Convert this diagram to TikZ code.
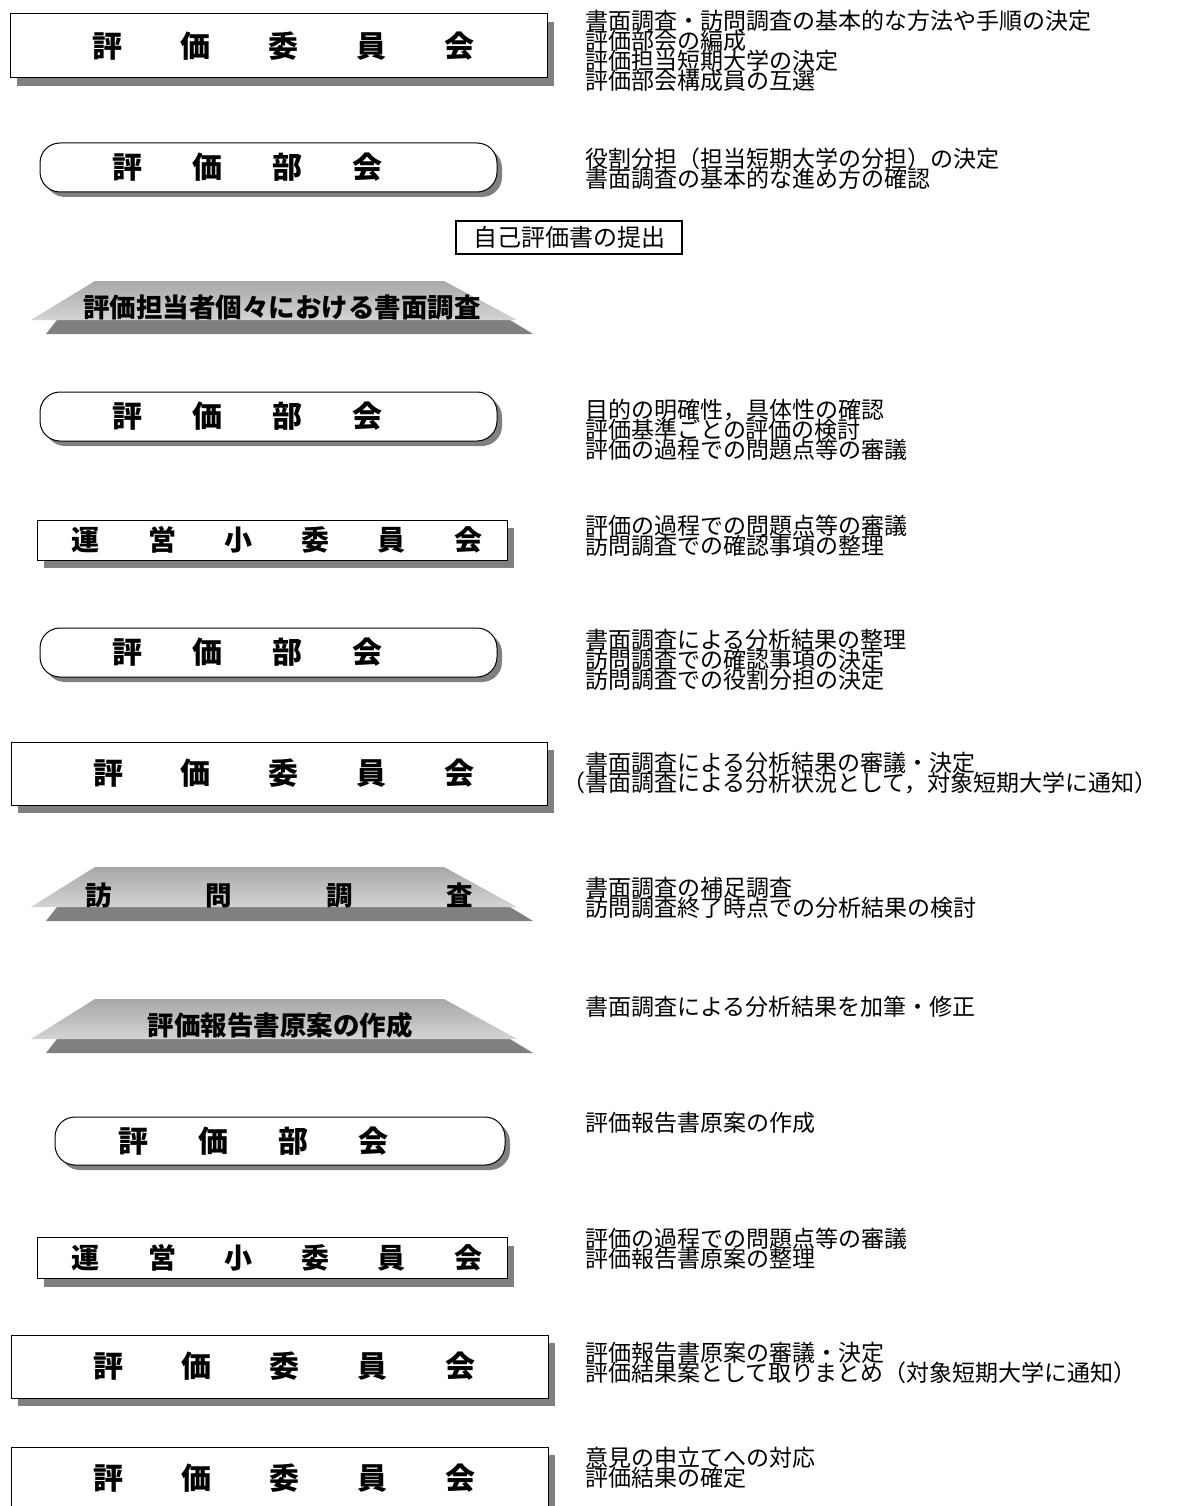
\documentclass[tikz,border=0pt]{standalone}
\usepackage{fontspec}
\newfontfamily\jp{Noto Sans CJK JP}
\usetikzlibrary{shadows}
\definecolor{shadowgray}{HTML}{808080}
\definecolor{traptop}{HTML}{A8A8A8}
\definecolor{trapbot}{HTML}{D4D4D4}
\tikzset{
  sqbox/.style={draw=black, line width=1pt, fill=white, inner sep=0pt,
    drop shadow={shadow xshift=7pt, shadow yshift=-8pt, fill=shadowgray, opacity=1}},
  rbox/.style={draw=black, line width=1pt, fill=white, rounded corners=20pt, inner sep=0pt,
    drop shadow={shadow xshift=5pt, shadow yshift=-5pt, fill=shadowgray, opacity=1}},
  biglbl/.style={font=\jp\bfseries\fontsize{30pt}{30pt}\selectfont},
  midlbl/.style={font=\jp\bfseries\fontsize{28pt}{28pt}\selectfont},
  traplbl/.style={inner sep=0pt, font=\jp\bfseries\fontsize{26.5pt}{26.5pt}\selectfont},
  note/.style={anchor=base west, inner sep=0pt, font=\jp\fontsize{23pt}{23pt}\selectfont},
  lightpart/.style={top color=traptop, bottom color=trapbot, draw=none},
  darkpart/.style={fill=shadowgray, draw=none},
}
\newcommand{\trapshape}[3]{%
  \path[darkpart] (57,#2) -- (510,#2) -- (533,#3) -- (46,#3) -- cycle;
  \path[lightpart] (95,#1) -- (444,#1) -- (517,#2) -- (31,#2) -- cycle;
}
\newcommand{\commlabel}{\kern10pt 評\hspace{58pt}価\hspace{58pt}委\hspace{58pt}員\hspace{58pt}会}
\newcommand{\buklabel}{評\hspace{50pt}価\hspace{50pt}部\hspace{50pt}会}
\newcommand{\unlabel}{\kern10pt 運\hspace{48.6pt}営\hspace{48.6pt}小\hspace{48.6pt}委\hspace{48.6pt}員\hspace{48.6pt}会}
\begin{document}
\begin{tikzpicture}[x=1pt,y=-1pt]
\useasboundingbox (0,0) rectangle (1179,1506);
\fill[white] (0,0) rectangle (1179,1506);

% 1 評価委員会
\node[sqbox, biglbl, minimum width=537pt, minimum height=64pt] (c1) at (278.5,46) {\commlabel};
\node[note] (n1a) at (585,30) {書面調査・訪問調査の基本的な方法や手順の決定};
\node[note] (n1b) at (585,50) {評価部会の編成};
\node[note] (n1c) at (585,70) {評価担当短期大学の決定};
\node[note] (n1d) at (585,90) {評価部会構成員の互選};

% 2 評価部会
\node[rbox, biglbl, minimum width=457pt, minimum height=49pt] (b1) at (268.5,167.5) {\buklabel\kern42pt};
\node[note] (n2a) at (585,168) {役割分担（担当短期大学の分担）の決定};
\node[note] (n2b) at (585,188) {書面調査の基本的な進め方の確認};

% 自己評価書の提出
\node[draw=black, line width=1.2pt, fill=white, inner sep=0pt, minimum width=226pt, minimum height=33pt,
  font=\jp\fontsize{24pt}{24pt}\selectfont] (sub) at (569,237.5) {自己評価書の提出};

% trapezoid 1
\trapshape{281}{320}{334}
\node[traplbl] (t1) at (282,307) {評価担当者個々における書面調査};

% 3 評価部会
\node[rbox, biglbl, minimum width=457pt, minimum height=49pt] (b2) at (268.5,416.5) {\buklabel\kern42pt};
\node[note] (n3a) at (585,418) {目的の明確性，具体性の確認};
\node[note] (n3b) at (585,438) {評価基準ごとの評価の検討};
\node[note] (n3c) at (585,458) {評価の過程での問題点等の審議};

% 4 運営小委員会
\node[sqbox, midlbl, minimum width=470pt, minimum height=40pt] (u1) at (272,540) {\unlabel};
\node[note] (n4a) at (585,534) {評価の過程での問題点等の審議};
\node[note] (n4b) at (585,554) {訪問調査での確認事項の整理};

% 5 評価部会
\node[rbox, biglbl, minimum width=457pt, minimum height=49pt] (b3) at (268.5,652.5) {\buklabel\kern42pt};
\node[note] (n5a) at (585,648) {書面調査による分析結果の整理};
\node[note] (n5b) at (585,668) {訪問調査での確認事項の決定};
\node[note] (n5c) at (585,688) {訪問調査での役割分担の決定};

% 6 評価委員会
\node[sqbox, biglbl, minimum width=536pt, minimum height=63pt] (c2) at (279,773.5) {\commlabel};
\node[note] (n6a) at (585,771) {書面調査による分析結果の審議・決定};
\node[note] (n6b) at (562,791) {（書面調査による分析状況として，対象短期大学に通知）};

% trapezoid 2 訪問調査
\trapshape{867}{907}{921}
\node[traplbl] (t2) at (279,895) {訪\hspace{94pt}問\hspace{94pt}調\hspace{94pt}査};
\node[note] (n7a) at (585,896) {書面調査の補足調査};
\node[note] (n7b) at (585,916) {訪問調査終了時点での分析結果の検討};

% trapezoid 3 評価報告書原案の作成
\trapshape{999}{1039}{1053}
\node[traplbl] (t3) at (280,1025) {評価報告書原案の作成};
\node[note] (n8a) at (585,1015) {書面調査による分析結果を加筆・修正};

% 9 評価部会
\node[rbox, biglbl, minimum width=450pt, minimum height=48pt] (b4) at (280,1141) {\buklabel\kern53pt};
\node[note] (n9a) at (585,1131) {評価報告書原案の作成};

% 10 運営小委員会
\node[sqbox, midlbl, minimum width=470pt, minimum height=41pt] (u2) at (272,1258) {\unlabel};
\node[note] (n10a) at (585,1247) {評価の過程での問題点等の審議};
\node[note] (n10b) at (585,1267) {評価報告書原案の整理};

% 11 評価委員会
\node[sqbox, biglbl, minimum width=537pt, minimum height=63pt] (c3) at (279.5,1366.5) {\commlabel};
\node[note] (n11a) at (585,1361) {評価報告書原案の審議・決定};
\node[note] (n11b) at (585,1381) {評価結果案として取りまとめ（対象短期大学に通知）};

% 12 評価委員会
\node[sqbox, biglbl, minimum width=537pt, minimum height=63pt] (c4) at (279.5,1478.5) {\commlabel};
\node[note] (n12a) at (585,1466) {意見の申立てへの対応};
\node[note] (n12b) at (585,1486) {評価結果の確定};
\end{tikzpicture}
\end{document}
